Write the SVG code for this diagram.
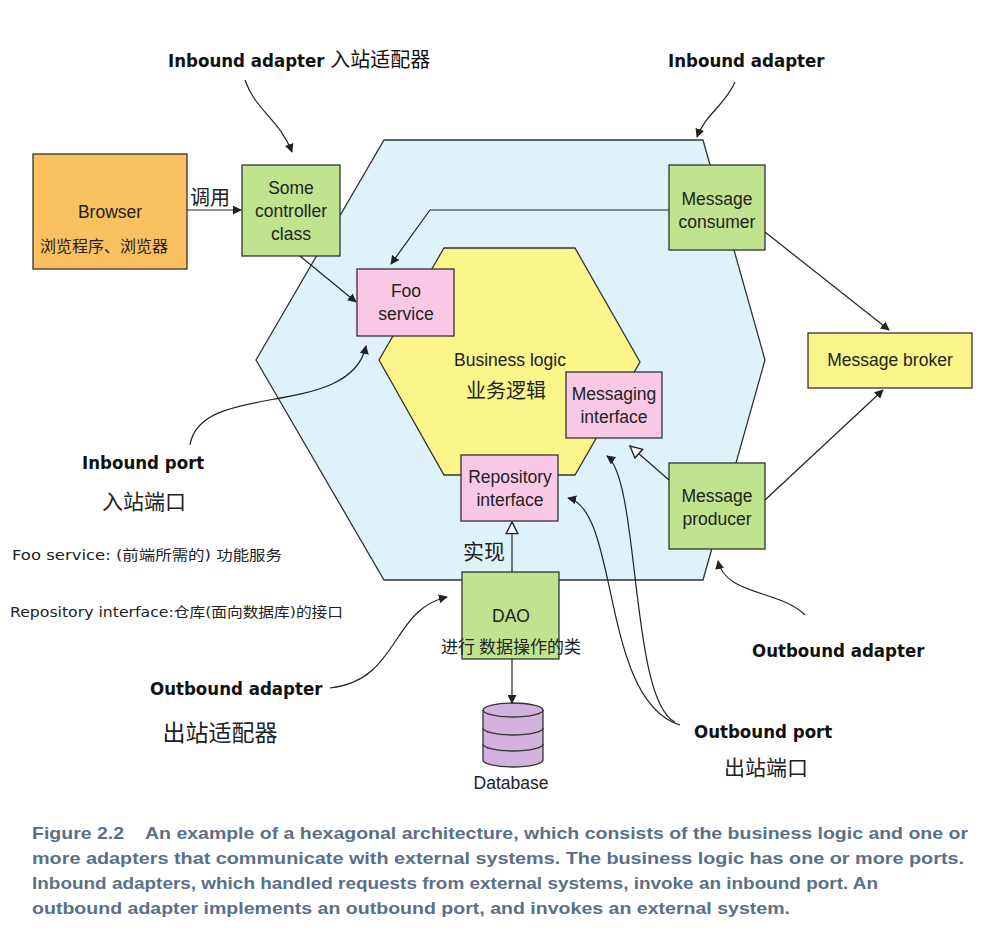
<svg xmlns="http://www.w3.org/2000/svg" width="997" height="945" viewBox="0 0 997 945">
<defs>
<marker id="a" viewBox="0 0 10 10" refX="9" refY="5" markerWidth="9" markerHeight="9" orient="auto-start-reverse" markerUnits="userSpaceOnUse"><path d="M0,0L10,5L0,10z" fill="#222"/></marker>
<marker id="h" viewBox="0 0 12 12" refX="11" refY="6" markerWidth="14" markerHeight="14" orient="auto" markerUnits="userSpaceOnUse"><path d="M1,1L11,6L1,11z" fill="#fff" stroke="#222" stroke-width="1.2"/></marker>
<style>
.b{stroke:#333;stroke-width:1.3}
.g{fill:#c1e38e}.p{fill:#f8c8e5}.y{fill:#fbf58a}
.t{font-family:"Liberation Sans",Arial,sans-serif;font-size:17.5px;fill:#222;text-anchor:middle}
.c{font-family:"Noto Sans CJK SC",sans-serif;fill:#222;text-anchor:middle}
.l{font-family:"DejaVu Sans Condensed","DejaVu Sans",sans-serif;font-weight:bold;font-size:18.5px;fill:#111}
.k{fill:none;stroke:#222;stroke-width:1.2}
.n{font-family:"DejaVu Sans","Noto Sans CJK SC",sans-serif;font-size:14px;fill:#222}
.cap{font-family:"Liberation Sans",Arial,sans-serif;font-weight:bold;font-size:17px;fill:#5b7088}
</style>
</defs>
<rect width="997" height="945" fill="#fff"/>
<polygon points="384,140 703,140 765,360 703,580 384,580 256,360" fill="#dff2fa" class="b"/>
<polygon points="444,248 575,248 640,362 575,475 444,475 379,360" class="y b"/>
<text class="t" x="510" y="366">Business logic</text>
<text class="c" x="506" y="398" font-size="20">业务逻辑</text>
<g id="browser"><rect x="33" y="154" width="154" height="115" fill="#f9c05f" class="b"/><text class="t" x="110" y="218">Browser</text><text class="c" x="104" y="252" font-size="16">浏览程序、浏览器</text></g>
<g id="controller"><rect x="242" y="165" width="98" height="91" class="g b"/><text class="t" x="291" y="194">Some</text><text class="t" x="291" y="217">controller</text><text class="t" x="291" y="240">class</text></g>
<g id="consumer"><rect x="669" y="165" width="96" height="85" class="g b"/><text class="t" x="717" y="205">Message</text><text class="t" x="717" y="228">consumer</text></g>
<g id="foo"><rect x="357" y="269" width="97" height="67" class="p b"/><text class="t" x="406" y="297">Foo</text><text class="t" x="406" y="320">service</text></g>
<g id="msgif"><rect x="566" y="372" width="96" height="66" class="p b"/><text class="t" x="614" y="400">Messaging</text><text class="t" x="614" y="423">interface</text></g>
<g id="repo"><rect x="461" y="455" width="97" height="66" class="p b"/><text class="t" x="510" y="483">Repository</text><text class="t" x="510" y="506">interface</text></g>
<g id="producer"><rect x="669" y="463" width="96" height="86" class="g b"/><text class="t" x="717" y="502">Message</text><text class="t" x="717" y="525">producer</text></g>
<g id="broker"><rect x="808" y="333" width="164" height="55" class="y b"/><text class="t" x="890" y="366">Message broker</text></g>
<g id="dao"><rect x="462" y="572" width="97" height="87" class="g b"/><text class="t" x="511" y="622">DAO</text><text class="c" x="511" y="653" font-size="17">进行 数据操作的类</text></g>
<g id="db"><path d="M483,710 v50 a30,7 0 0 0 60,0 v-50" fill="#d3b1df" class="b"/><ellipse cx="513" cy="710" rx="30" ry="7" fill="#d3b1df" class="b"/><path d="M483,728 a30,7 0 0 0 60,0 M483,744 a30,7 0 0 0 60,0" fill="none" class="b"/><text class="t" x="511" y="789">Database</text></g>
<g id="connectors">
<path class="k" d="M187,210 L241,210" marker-end="url(#a)"/>
<path class="k" d="M300,256 L356,302" marker-end="url(#a)"/>
<path class="k" d="M669,210 L430,210 L391,264" marker-end="url(#a)"/>
<path class="k" d="M765,232 L889,330" marker-end="url(#a)"/>
<path class="k" d="M765,500 L883,390" marker-end="url(#a)"/>
<path class="k" d="M669,480 L630,446" marker-end="url(#h)"/>
<path class="k" d="M512,572 L512,522" marker-end="url(#h)"/>
<path class="k" d="M512,659 L512,703" marker-end="url(#a)"/>
<path class="k" d="M245,80 C255,110 280,120 292,152" marker-end="url(#a)"/>
<path class="k" d="M735,82 C725,105 705,115 697,137" marker-end="url(#a)"/>
<path class="k" d="M190,445 C200,380 350,420 366,346" marker-end="url(#a)"/>
<path class="k" d="M330,688 C400,680 390,610 447,597" marker-end="url(#a)"/>
<path class="k" d="M805,615 C780,590 725,595 718,561" marker-end="url(#a)"/>
<path class="k" d="M675,722 C630,700 640,480 607,456" marker-end="url(#a)"/>
<path class="k" d="M680,725 C600,700 620,510 568,498" marker-end="url(#a)"/>
</g>
<text class="c" x="210" y="205" font-size="20">调用</text>
<text class="c" x="484" y="559" font-size="21">实现</text>
<text class="l" x="168" y="67">Inbound adapter <tspan font-family="Noto Sans CJK SC" font-weight="normal" font-size="20">入站适配器</tspan></text>
<text class="l" x="668" y="67">Inbound adapter</text>
<text class="l" x="82" y="469">Inbound port</text>
<text class="c" x="144" y="509" font-size="21">入站端口</text>
<text class="n" x="12" y="560" textLength="270" lengthAdjust="spacingAndGlyphs">Foo service: (前端所需的) 功能服务</text>
<text class="n" x="10" y="617" textLength="333" lengthAdjust="spacingAndGlyphs">Repository interface:仓库(面向数据库)的接口</text>
<text class="l" x="150" y="695">Outbound adapter</text>
<text class="c" x="220" y="741" font-size="23">出站适配器</text>
<text class="l" x="752" y="657">Outbound adapter</text>
<text class="l" x="694" y="738">Outbound port</text>
<text class="c" x="766" y="775" font-size="21">出站端口</text>
<text class="cap" x="32" y="839" textLength="936" lengthAdjust="spacingAndGlyphs" xml:space="preserve">Figure 2.2    An example of a hexagonal architecture, which consists of the business logic and one or</text>
<text class="cap" x="32" y="864" textLength="932" lengthAdjust="spacingAndGlyphs">more adapters that communicate with external systems. The business logic has one or more ports.</text>
<text class="cap" x="32" y="889" textLength="846" lengthAdjust="spacingAndGlyphs">Inbound adapters, which handled requests from external systems, invoke an inbound port. An</text>
<text class="cap" x="32" y="914" textLength="758" lengthAdjust="spacingAndGlyphs">outbound adapter implements an outbound port, and invokes an external system.</text>
</svg>
